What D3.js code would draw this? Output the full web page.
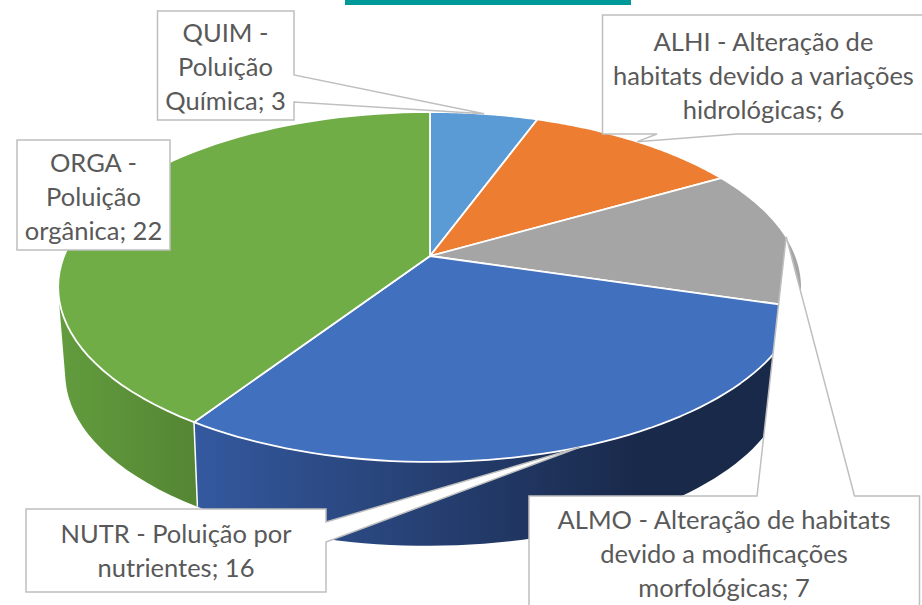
<!DOCTYPE html>
<html lang="en">
<head>
  <meta charset="utf-8">
  <title>Pressoes</title>
  <script src="https://d3js.org/d3.v7.min.js"></script>
  <style>
    html, body { margin: 0; padding: 0; background: #fff; overflow: hidden; }
    svg { display: block; }
    text { font-family: Lato, "Open Sans", sans-serif; font-size: 25.5px; fill: #595959; text-anchor: middle; }
  </style>
</head>
<body>
  <script>
    // data, clockwise from 12 o'clock
    var codes = ["QUIM", "ALHI", "ALMO", "NUTR", "ORGA"];
    var values = [3, 6, 7, 16, 22];
    var labelLines = [
      ["QUIM -", "Poluição", "Química; 3"],
      ["ALHI - Alteração de", "habitats devido a variações", "hidrológicas; 6"],
      ["ALMO - Alteração de habitats", "devido a modificações", "morfológicas; 7"],
      ["NUTR - Poluição por", "nutrientes; 16"],
      ["ORGA -", "Poluição", "orgânica; 22"]
    ];
    var topColors = ["#5b9bd5", "#ed7d31", "#a5a5a5", "#4170bf", "#70ad47"];
    var sideStart = ["#4a80b0", "#c5652a", "#a0a0a0", "#34599f", "#629c3e"];
    var sideEnd = ["#2f5f8a", "#8f4a1f", "#8a8a8a", "#19294a", "#548533"];

    var width = 922, height = 605;

    var svg = d3.select("body").append("svg")
      .attr("width", width)
      .attr("height", height);

    // teal bar that was cut off at the top of the slide
    svg.append("rect")
      .attr("x", 345).attr("y", 0)
      .attr("width", 286).attr("height", 5)
      .attr("fill", "#009999");

    var pie = d3.pie().sort(null).value(function(d) { return d; });
    var slices = pie(values);

    // perspective of the tilted disc: the far side is squeezed
    var tilt = 0.177;
    var discX = d3.scaleLinear().domain([-1, 1]).range([430 - 366, 430 + 366]);
    var discY = d3.scaleLinear().domain([-1, 1]).range([256 - 169.5, 256 + 169.5]);
    var floorX = d3.scaleLinear().domain([-1, 1]).range([427 - 356, 427 + 356]);
    var floorY = d3.scaleLinear().domain([-1, 1]).range([343.5 - 166.5, 343.5 + 166.5]);

    function project(a, sx, sy) {
      var w = 1 + tilt * Math.cos(a);
      return [sx(Math.sin(a) / w), sy(-Math.cos(a) / w)];
    }
    function onDisc(a) { return project(a, discX, discY); }
    function onFloor(a) { return project(a, floorX, floorY); }

    function arcAngles(d) {
      return d3.range(0, 61).map(function(i) {
        return d.startAngle + (d.endAngle - d.startAngle) * i / 60;
      });
    }

    var line = d3.line();

    var defs = svg.append("defs");
    slices.forEach(function(d, i) {
      var g = defs.append("linearGradient")
        .attr("id", "side" + i)
        .attr("gradientUnits", "userSpaceOnUse")
        .attr("x1", i == 4 ? 60 : 195).attr("x2", i == 4 ? 200 : 640)
        .attr("y1", 0).attr("y2", 0);
      g.append("stop").attr("offset", 0).attr("stop-color", sideStart[i]);
      g.append("stop").attr("offset", 1).attr("stop-color", sideEnd[i]);
    });

    // side walls first, the top face covers whatever is behind it
    // hull gives the straight tangent on the far left; blue goes last so green can't poke over it
    var wallOrder = [4, 0, 1, 2, 3];
    svg.append("g").selectAll("path")
      .data(wallOrder.map(function(i) { return slices[i]; }))
      .join("path")
      .attr("d", function(d) {
        var a = arcAngles(d);
        return line(d3.polygonHull(a.map(onDisc).concat(a.map(onFloor)))) + "Z";
      })
      .attr("fill", function(d) { return "url(#side" + d.index + ")"; });

    // white seam between the blue and the green wall
    svg.append("path")
      .attr("d", line([onDisc(slices[4].startAngle), onFloor(slices[4].startAngle)]))
      .attr("stroke", "#fff")
      .attr("stroke-width", 1.5)
      .attr("fill", "none");

    svg.append("g").selectAll("path")
      .data(slices)
      .join("path")
      .attr("d", function(d) {
        return line([[430, 256]].concat(arcAngles(d).map(onDisc))) + "Z";
      })
      .attr("fill", function(d, i) { return topColors[i]; })
      .attr("stroke", "#fff")
      .attr("stroke-width", 1.8)
      .attr("stroke-linejoin", "round");

    // callout boxes: x0, y0, x1, y1, and where the wedge leaves the box
    var boxes = [
      { x0: 157.5, y0: 11, x1: 294, y1: 120, side: "right", a: 75, b: 102 },
      { x0: 602.5, y0: 15, x1: 930, y1: 134, side: "bottom", a: 657, b: 737 },
      { x0: 529, y0: 496, x1: 919.5, y1: 620, side: "top", a: 757, b: 854.5 },
      { x0: 26, y0: 509, x1: 326, y1: 592, side: "right", a: 522, b: 542 },
      { x0: 17, y0: 140, x1: 170, y1: 250, side: null }
    ];
    var lineHeight = 34;

    function calloutPath(b, tip) {
      var pts = [[b.x0, b.y0]];
      if (b.side == "top") pts.push([b.a, b.y0], tip, [b.b, b.y0]);
      pts.push([b.x1, b.y0]);
      if (b.side == "right") pts.push([b.x1, b.a], tip, [b.x1, b.b]);
      pts.push([b.x1, b.y1]);
      if (b.side == "bottom") pts.push([b.b, b.y1], tip, [b.a, b.y1]);
      pts.push([b.x0, b.y1]);
      return line(pts) + "Z";
    }

    var callouts = svg.append("g").selectAll("g")
      .data(slices)
      .join("g")
      .attr("class", function(d, i) { return codes[i]; });

    callouts.append("path")
      .attr("d", function(d, i) {
        return calloutPath(boxes[i], onDisc((d.startAngle + d.endAngle) / 2));
      })
      .attr("fill", "#fff")
      .attr("stroke", "#bfbfbf")
      .attr("stroke-width", 1.5);

    var textCenters = [225.5, 763.5, 724, 176, 93.5];
    var firstBase = [41.5, 50.5, 528.5, 543, 172];

    callouts.each(function(d, i) {
      d3.select(this).selectAll("text")
        .data(labelLines[i])
        .join("text")
        .attr("x", textCenters[i])
        .attr("y", function(t, j) { return firstBase[i] + j * lineHeight; })
        .text(function(t) { return t; });
    });
  </script>
</body>
</html>
